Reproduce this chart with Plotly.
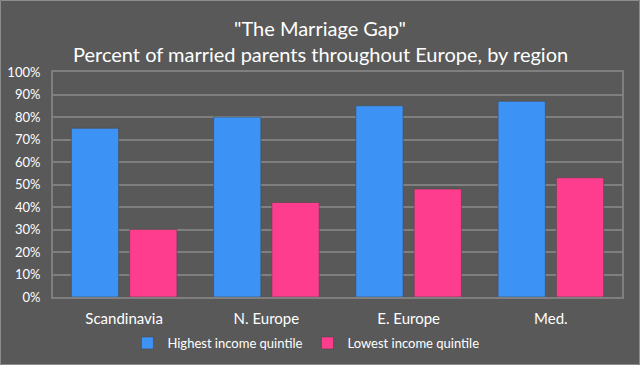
import plotly.graph_objects as go

regions = ["Scandinavia", "N. Europe", "E. Europe", "Med."]
highest = [75, 80, 85, 87]
lowest = [30, 42, 48, 53]
tick_vals = [0, 10, 20, 30, 40, 50, 60, 70, 80, 90, 100]
tick_text = [f"{v}%" for v in tick_vals]
title_lines = ['"The Marriage Gap"', "Percent of married parents throughout Europe, by region"]

BG = "#595959"
GRID = "#7f7f7f"
FONT = "Lato, Open Sans, sans-serif"

fig = go.Figure()
fig.add_trace(go.Bar(x=regions, y=highest, name="Highest income quintile",
                     marker=dict(color="#3d92f5", line=dict(color="#4a4a4a", width=0.6))))
fig.add_trace(go.Bar(x=regions, y=lowest, name="Lowest income quintile",
                     marker=dict(color="#ff3d8e", line=dict(color="#4a4a4a", width=0.6))))

W, H = 640, 365
ml, mr, mt, mb = 53, 18, 72, 68
PH = H - mt - mb

fig.update_layout(
    width=W, height=H,
    paper_bgcolor=BG, plot_bgcolor=BG,
    margin=dict(l=ml, r=mr, t=mt, b=mb, autoexpand=False),
    barmode="group", bargap=0.18, bargroupgap=0.19,
    font=dict(family=FONT, color="white"),
    showlegend=True,
    legend=dict(orientation="h", x=0.478, xref="container", xanchor="center",
                y=1 - 343 / 365, yref="container", yanchor="middle",
                font=dict(size=13, color="white"), bgcolor="rgba(0,0,0,0)",
                itemwidth=30, traceorder="normal"),
    xaxis=dict(showgrid=False, showline=True, linecolor=GRID, linewidth=2, mirror=True,
               ticks="", tickfont=dict(size=15, color="white"), ticklabelstandoff=7),
    yaxis=dict(range=[0, 100], tickvals=tick_vals, ticktext=tick_text,
               showgrid=True, gridcolor=GRID, gridwidth=2,
               showline=True, linecolor=GRID, linewidth=2, mirror=True,
               zeroline=False, ticks="", tickfont=dict(size=13, color="white"),
               ticklabelstandoff=8),
)

# two title lines
for txt, ypx in zip(title_lines, [28, 53.5]):
    fig.add_annotation(text=txt, xref="paper", yref="paper",
                       x=(320 - ml) / (W - ml - mr), y=1 + (mt - ypx) / PH,
                       xanchor="center", yanchor="middle", showarrow=False,
                       font=dict(size=20, color="white", family=FONT))

# thin light border round the whole picture
fig.add_shape(type="rect", xref="paper", yref="paper",
              x0=-(ml - 0.5) / (W - ml - mr), x1=1 + (mr - 0.5) / (W - ml - mr),
              y0=-(mb - 0.5) / PH, y1=1 + (mt - 0.5) / PH,
              line=dict(color="#8c8c8c", width=1), layer="below")

fig.write_html(
    "out.html",
    config={"displayModeBar": False},
    post_script=(
        "document.documentElement.style.margin='0';"
        "document.documentElement.style.overflow='hidden';"
        "document.body.style.margin='0';"
        "document.body.style.overflow='hidden';"
        "document.body.style.background='#595959';"
    ),
)
